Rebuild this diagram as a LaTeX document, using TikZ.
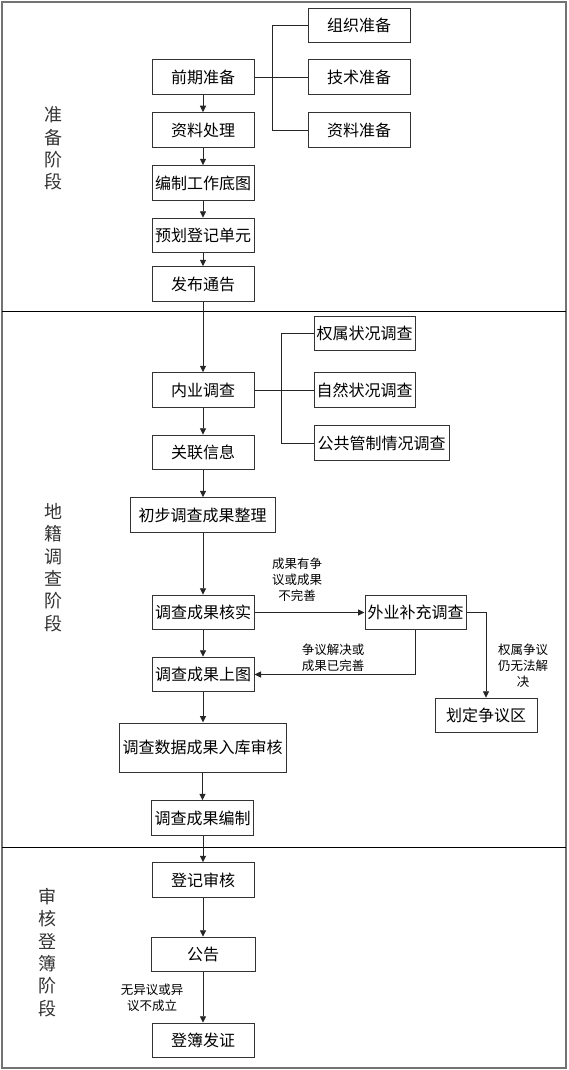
\documentclass[tikz,border=0pt]{standalone}
\usepackage{fontspec}
\newfontfamily\cjk{Noto Sans CJK SC}
\usetikzlibrary{arrows.meta}
\begin{document}
\begin{tikzpicture}[x=1pt,y=-1pt,
  box/.style={draw=black!80,line width=1pt,minimum width=102pt,minimum height=34.5pt,inner sep=0pt,font=\cjk\fontsize{16}{18}\selectfont},
  conn/.style={draw=black!85,line width=0.9pt},
  arr/.style={conn,-{Triangle[length=6.5pt,width=6pt]}},
  lbl/.style={align=center,inner sep=0pt,font=\cjk\fontsize{12.5}{16}\selectfont},
  stage/.style={align=center,inner sep=0pt,text=black!80,font=\cjk\fontsize{18}{22.3}\selectfont}
]
\useasboundingbox (0,0) rectangle (568,1070);
\draw[black!55,line width=1.6pt] (2,2) rectangle (566,1068);
\draw[black,line width=1pt] (2,311) -- (566,311);
\draw[black,line width=1pt] (2,847) -- (566,847);

% stage labels
\node[stage] (s1) at (53,148.5) {准\\备\\阶\\段};
\node[stage] (s2) at (53,567.5) {地\\籍\\调\\查\\阶\\段};
\node[stage] (s3) at (47,952.5) {审\\核\\登\\簿\\阶\\段};

% stage 1
\node[box] (qq) at (203,77) {前期准备};
\node[box] (zl) at (203,130) {资料处理};
\node[box] (bz) at (203,183) {编制工作底图};
\node[box] (yh) at (203,235.5) {预划登记单元};
\node[box] (fb) at (203,284) {发布通告};
\node[box] (zz) at (359,25.5) {组织准备};
\node[box] (js) at (359,77) {技术准备};
\node[box] (zlzb) at (359,130) {资料准备};
\coordinate (b1) at (272,0);

% stage 2
\node[box] (ny) at (203,390) {内业调查};
\node[box] (gl) at (203,452.5) {关联信息};
\node[box,minimum width=145pt] (cb) at (202.5,515) {初步调查成果整理};
\node[box,minimum width=101pt] (qs) at (364.5,333.5) {权属状况调查};
\node[box,minimum width=101pt] (zr) at (364.5,390) {自然状况调查};
\node[box,minimum width=135pt] (gg) at (381.5,443) {公共管制情况调查};
\coordinate (b2) at (281,0);
\node[box] (hs) at (203,612.5) {调查成果核实};
\node[box,minimum width=101pt] (wy) at (415.5,612.5) {外业补充调查};
\node[box] (st) at (203,674.5) {调查成果上图};
\node[box] (hd) at (486,715.5) {划定争议区};
\node[box,minimum width=167pt,minimum height=49pt] (rk) at (202.5,747.5) {调查数据成果入库审核};
\node[box] (bzh) at (202.5,818) {调查成果编制};

% stage 3
\node[box] (dj) at (203,880) {登记审核};
\node[box,minimum width=104pt] (ggao) at (203,954.5) {公告};
\node[box] (dbfz) at (203,1040.5) {登簿发证};

% brackets
\draw[conn] (qq.east) -- (js.west);
\draw[conn] (zz.west) -| (b1 |- zlzb.west) -- (zlzb.west);
\draw[conn] (ny.east) -- (zr.west);
\draw[conn] (qs.west) -| (b2 |- gg.west) -- (gg.west);

% main arrows
\draw[arr] (qq) -- (zl);
\draw[arr] (zl) -- (bz);
\draw[arr] (bz) -- (yh);
\draw[arr] (yh) -- (fb);
\draw[arr] (fb) -- (ny);
\draw[arr] (ny) -- (gl);
\draw[arr] (gl) -- (gl |- cb.north);
\draw[arr] (cb.south -| hs) -- (hs);
\draw[arr] (hs) -- (st);
\draw[arr] (st) -- (st |- rk.north);
\draw[arr] (rk.south -| bzh) -- (bzh);
\draw[arr] (bzh.south -| dj) -- (dj);
\draw[arr] (dj) -- (ggao);
\draw[arr] (ggao) -- (dbfz);
\draw[arr] (hs.east) -- (wy.west);
\draw[arr] (wy.south) |- (st.east);
\draw[arr] (wy.east) -| (hd.north);

% labels
\node[lbl] (l1) at (297,580) {成果有争\\议或成果\\不完善};
\node[lbl] (l2) at (333,657.5) {争议解决或\\成果已完善};
\node[lbl] (l3) at (523,666) {权属争议\\仍无法解\\决};
\node[lbl] (l4) at (152,998) {无异议或异\\议不成立};
\end{tikzpicture}
\end{document}
